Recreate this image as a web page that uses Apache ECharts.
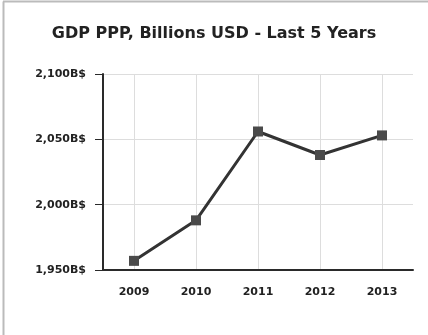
<!DOCTYPE html>
<html>
<head>
<meta charset="utf-8">
<script src="https://cdn.jsdelivr.net/npm/echarts@6/dist/echarts.min.js"></script>
<style>
  html, body { margin: 0; padding: 0; background: #fff; }
  #chart { width: 428px; height: 335px; }
</style>
</head>
<body>
<div id="chart"></div>
<script>
// GDP (PPP), billions of USD, for the last five years
const years = ['2009', '2010', '2011', '2012', '2013'];
const gdpPPP = [1957, 1988, 2056, 2038, 2053];
const yTicks = { min: 1950, max: 2100, step: 50 };
const titleText = 'GDP PPP, Billions USD - Last 5 Years';

const fmtBillions = v => v.toLocaleString('en-US') + 'B$';
const FONT = 'DejaVu Sans, Verdana, sans-serif';

const chart = echarts.init(document.getElementById('chart'), null, { renderer: 'canvas' });
chart.setOption({
  animation: false,
  backgroundColor: '#fff',
  textStyle: { fontFamily: FONT },
  title: {
    text: titleText,
    left: 'center',
    top: 21,
    textStyle: { fontSize: 16, fontWeight: 'bold', color: '#222', fontFamily: FONT }
  },
  graphic: [
    { type: 'line', shape: { x1: 3.5, y1: 1.5, x2: 3.5, y2: 335 }, style: { stroke: '#bbb', lineWidth: 2 } },
    { type: 'line', shape: { x1: 3, y1: 1.5, x2: 428, y2: 1.5 }, style: { stroke: '#bbb', lineWidth: 2 } }
  ],
  grid: { left: 103, right: 15, top: 74, bottom: 65 },
  xAxis: {
    type: 'category',
    data: years,
    boundaryGap: true,
    axisLine: { lineStyle: { color: '#2a2a2a', width: 2 } },
    axisTick: { alignWithLabel: true, length: 6, lineStyle: { color: '#2a2a2a', width: 1 } },
    axisLabel: { margin: 17, fontSize: 11, fontWeight: 'bold', color: '#222', fontFamily: FONT },
    splitLine: { show: true, alignWithLabel: true, lineStyle: { color: '#ddd', width: 1 } }
  },
  yAxis: {
    type: 'value',
    min: yTicks.min,
    max: yTicks.max,
    interval: yTicks.step,
    axisLine: { show: true, lineStyle: { color: '#2a2a2a', width: 2 } },
    axisTick: { show: true, length: 8, lineStyle: { color: '#2a2a2a', width: 1 } },
    axisLabel: { margin: 17, fontSize: 11, fontWeight: 'bold', color: '#222', fontFamily: FONT, formatter: fmtBillions },
    splitLine: { show: true, lineStyle: { color: '#ddd', width: 1 } }
  },
  series: [{
    type: 'line',
    data: gdpPPP,
    symbol: 'rect',
    symbolSize: 10,
    showSymbol: true,
    lineStyle: { color: '#333', width: 3 },
    itemStyle: { color: '#4a4a4a' }
  }]
});
</script>
</body>
</html>
